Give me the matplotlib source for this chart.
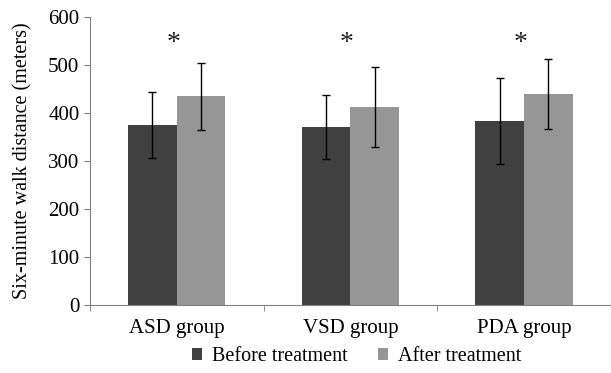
import numpy as np
import matplotlib
matplotlib.use('Agg')
import matplotlib.pyplot as plt

groups = ['ASD group', 'VSD group', 'PDA group']
before = [376, 371, 383]
before_err = [69, 67, 90]
after = [435, 413, 440]
after_err = [70, 83, 72]
star_y = 546

plt.rcParams['font.family'] = ['Liberation Serif', 'DejaVu Serif']

fig = plt.figure(figsize=(6.11, 3.73), dpi=100)
ax = fig.add_axes([0.147, 0.182, 0.853, 0.772])

x = np.arange(len(groups))
w = 0.28
err_kw = dict(ecolor='black', elinewidth=1, capsize=3, capthick=1)
ax.bar(x - w / 2, before, w, yerr=before_err, color='#404040',
       label='Before treatment', error_kw=err_kw)
ax.bar(x + w / 2, after, w, yerr=after_err, color='#969696',
       label='After treatment', error_kw=err_kw)
for xi in x:
    ax.text(xi - 0.02, star_y, '*', ha='center', va='center', fontsize=20,
            color='#222222')

ax.set_xlim(-0.5, 2.5)
ax.set_ylim(0, 600)
ax.set_yticks(range(0, 601, 100))
ax.set_xticks(x)
ax.set_xticklabels(groups, fontsize=15)
ax.set_xticks([-0.5, 0.5, 1.5, 2.5], minor=True)
ax.tick_params(axis='x', which='major', length=0, pad=10)
ax.tick_params(axis='x', which='minor', length=4, color='#808080')
ax.tick_params(axis='y', length=4, color='#808080', labelsize=15)
ax.set_ylabel('Six-minute walk distance (meters)', fontsize=14.5, labelpad=11)

for s in ['top', 'right']:
    ax.spines[s].set_visible(False)
for s in ['left', 'bottom']:
    ax.spines[s].set_color('#808080')

fig.legend(loc='lower center', bbox_to_anchor=(0.583, -0.03), ncol=2,
           frameon=False, fontsize=14.5, handlelength=0.5, handleheight=0.5,
           handletextpad=0.5, columnspacing=1.5)

fig.savefig('out.png', dpi=100)
